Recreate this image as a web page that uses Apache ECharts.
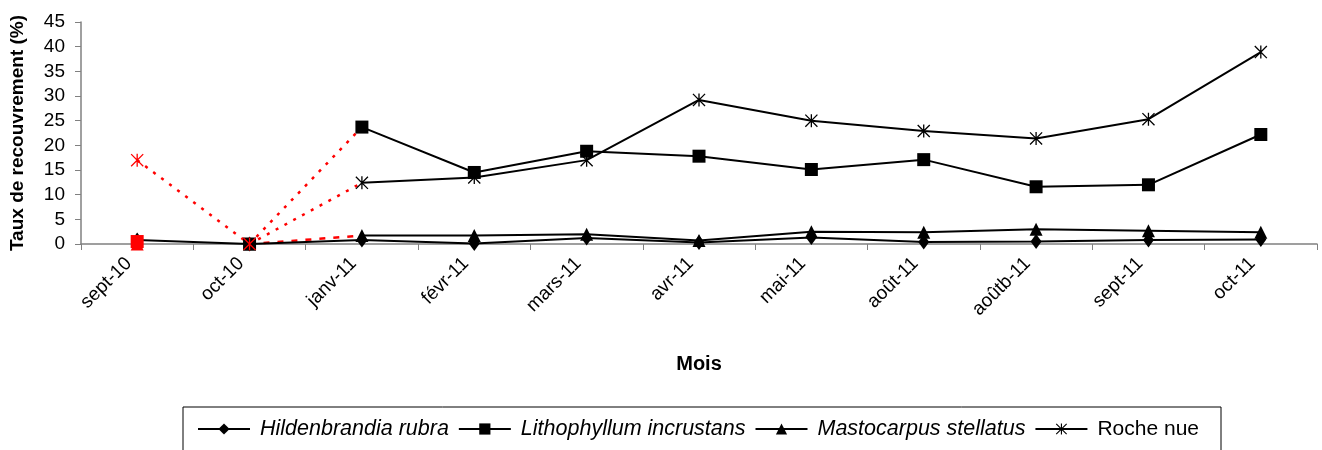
<!DOCTYPE html>
<html>
<head>
<meta charset="utf-8">
<title>Taux de recouvrement</title>
<script src="https://cdn.jsdelivr.net/npm/echarts@6/dist/echarts.min.js"></script>
<style>
  html, body { margin: 0; padding: 0; background: #fff; }
  #chart { width: 1322px; height: 450px; }
</style>
</head>
<body>
<div id="chart"></div>
<script>
// --- data ---
const months = ['sept-10', 'oct-10', 'janv-11', 'févr-11', 'mars-11', 'avr-11',
  'mai-11', 'août-11', 'aoûtb-11', 'sept-11', 'oct-11'];
const hildenbrandia = [0.8, 0, 0.8, 0.1, 1.2, 0.3, 1.3, 0.4, 0.5, 0.8, 0.9];
const lithophyllum = [0.5, 0, 23.7, 14.5, 18.8, 17.8, 15.1, 17.1, 11.6, 12.0, 22.2];
const mastocarpus = [0, 0, 1.7, 1.7, 2.0, 0.7, 2.5, 2.4, 3.0, 2.7, 2.4];
const rocheNue = [17.0, 0, 12.4, 13.5, 17.0, 29.2, 25.0, 22.9, 21.4, 25.3, 38.9];
const yMax = 45;
const yStep = 5;

const FONT = 'Liberation Sans';
const RED = '#ff0000';
// asterisk marker: vertical bar + two diagonals
const ASTERISK = 'path://M9 0L11 0L11 20L9 20Z M0 1.4L1.4 0L20 18.6L18.6 20Z M18.6 0L20 1.4L1.4 20L0 18.6Z';

// the solid black part of a series starts at janv-11
const SOLID_FROM = 2;

function solidPart(values) {
  return values.map((v, i) => (i >= SOLID_FROM ? v : null));
}

function dottedPart(values, from) {
  return values.map((v, i) => (i >= from && i <= SOLID_FROM ? v : null));
}

// markers for the first two months, each with its own colour
function earlyMarkers(values, colors) {
  return values.map((v, i) => (i < SOLID_FROM ? { value: v, itemStyle: { color: colors[i] } } : null));
}

function blackLine(name, data, symbol, size) {
  return {
    name: name,
    type: 'line',
    data: data,
    symbol: symbol,
    symbolSize: size,
    showSymbol: true,
    showAllSymbol: true,
    itemStyle: { color: '#000' },
    lineStyle: { color: '#000', width: 2 },
    z: 3
  };
}

function redLine(data, dash) {
  return {
    type: 'line',
    data: data,
    showSymbol: false,
    symbol: 'none',
    lineStyle: { color: RED, width: 2.5, type: dash },
    z: 2
  };
}

function markerOnly(data, symbol, size, z) {
  return {
    type: 'line',
    data: data,
    symbol: symbol,
    symbolSize: size,
    showSymbol: true,
    lineStyle: { opacity: 0 },
    z: z
  };
}

const series = [
  blackLine('Hildenbrandia rubra', hildenbrandia, 'diamond', [11, 15]),
  blackLine('Lithophyllum incrustans', solidPart(lithophyllum), 'rect', 13),
  blackLine('Mastocarpus stellatus', solidPart(mastocarpus), 'triangle', 13),
  blackLine('Roche nue', solidPart(rocheNue), ASTERISK, 13),
  redLine(dottedPart(rocheNue, 0), [3, 7]),
  redLine(dottedPart(lithophyllum, 1), [3, 7]),
  redLine(dottedPart(mastocarpus, 1), [6, 8]),
  markerOnly(earlyMarkers(mastocarpus, [RED, '#000']), 'triangle', 13, 4),
  markerOnly(earlyMarkers(lithophyllum, [RED, '#000']), 'rect', 13, 5),
  markerOnly(earlyMarkers(rocheNue, [RED, RED]), ASTERISK, 13, 6)
];

const chart = echarts.init(document.getElementById('chart'), null, { renderer: 'canvas' });

chart.setOption({
  animation: false,
  textStyle: { fontFamily: FONT, color: '#000' },
  grid: { left: 81, right: 5, top: 22, bottom: 206, containLabel: false, outerBoundsMode: 'none' },
  legend: {
    data: ['Hildenbrandia rubra', 'Lithophyllum incrustans', 'Mastocarpus stellatus', 'Roche nue'],
    left: 183,
    top: 407,
    padding: [11, 22, 40, 14],
    itemGap: 9,
    itemWidth: 52,
    itemHeight: 14,
    borderColor: '#000',
    borderWidth: 1,
    borderRadius: 0,
    selectedMode: false,
    textStyle: {
      fontFamily: FONT,
      fontSize: 21.5,
      color: '#000',
      rich: {
        i: { fontFamily: FONT, fontSize: 21.5, fontStyle: 'italic', color: '#000', padding: [0, 0, 0, 5] },
        n: { fontFamily: FONT, fontSize: 21, color: '#000', padding: [0, 0, 0, 5] }
      }
    },
    formatter: (name) => (name === 'Roche nue' ? '{n|' + name + '}' : '{i|' + name + '}')
  },
  xAxis: {
    type: 'category',
    data: months,
    boundaryGap: true,
    name: 'Mois',
    nameLocation: 'middle',
    nameGap: 110,
    nameTextStyle: { fontFamily: FONT, fontSize: 20, fontWeight: 'bold', color: '#000' },
    axisLine: { lineStyle: { color: '#808080', width: 1.5 } },
    axisTick: { show: true, length: 6, lineStyle: { color: '#808080' } },
    axisLabel: { rotate: 45, margin: 8, padding: [0, 12, 0, 0], fontFamily: FONT, fontSize: 19, color: '#000', interval: 0 },
    splitLine: { show: false }
  },
  yAxis: {
    type: 'value',
    min: 0,
    max: yMax,
    interval: yStep,
    name: 'Taux de recouvrement (%)',
    nameLocation: 'middle',
    nameGap: 54,
    nameTextStyle: { fontFamily: FONT, fontSize: 19, fontWeight: 'bold', color: '#000' },
    axisLine: { show: true, lineStyle: { color: '#808080', width: 1.5 } },
    axisTick: { show: true, length: 6, lineStyle: { color: '#808080' } },
    axisLabel: { margin: 16, fontFamily: FONT, fontSize: 19, color: '#000' },
    splitLine: { show: false }
  },
  series: series
});
</script>
</body>
</html>
